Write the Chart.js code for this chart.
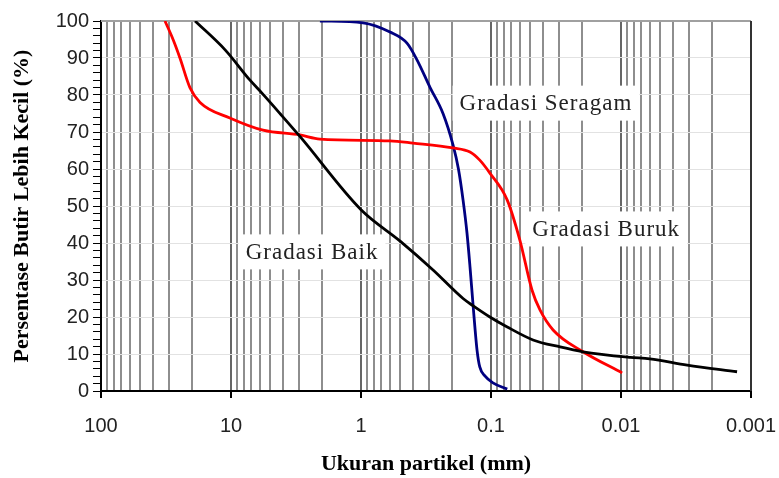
<!DOCTYPE html>
<html>
<head>
<meta charset="utf-8">
<script src="https://cdn.jsdelivr.net/npm/chart.js@4"></script>
<style>
  html, body { margin: 0; padding: 0; background: #fff; }
  #grafik { display: block; }
</style>
</head>
<body>
<canvas id="grafik" width="779" height="478"></canvas>
<script>
// Data (ukuran dalam mm, persen lolos)
const baikSize = [18.9, 11.1, 7.14, 5.78, 4.2, 2.95, 1.0, 0.5, 0.279, 0.164, 0.137, 0.102, 0.075, 0.0475, 0.0294, 0.0196, 0.0085, 0.006, 0.0031, 0.00128];
const baikPct  = [100, 92.2, 84, 80.5, 75, 68.8, 49, 40.5, 32.7, 25, 23, 20, 17.3, 13.8, 11.9, 10.6, 9.1, 8.7, 7, 5.2];

const burukSize = [32.2, 27.9, 24.7, 20.7, 17.3, 10.2, 5.67, 2.94, 2.07, 0.60, 0.398, 0.196, 0.145, 0.122, 0.102, 0.075, 0.060, 0.0484, 0.042, 0.0333, 0.0196, 0.0098];
const burukPct  = [100, 95, 90, 82, 78, 73.8, 70.5, 69.2, 68.1, 67.6, 67, 65.7, 64.6, 62.4, 58.9, 51.6, 40.8, 27.3, 21.9, 16.5, 10.6, 4.9];

const seragamSize = [2.07, 0.966, 0.598, 0.443, 0.371, 0.294, 0.234, 0.196, 0.178, 0.164, 0.153, 0.145, 0.137, 0.128, 0.122, 0.111, 0.0966, 0.075];
const seragamPct  = [100, 99.5, 97, 94, 89.5, 82, 75, 66.5, 60, 51.6, 42.7, 33.5, 22.7, 11, 6.5, 4, 2.2, 0.5];

// Label sumbu x
const xTickValues = [100, 10, 1, 0.1, 0.01, 0.001];
const xTickLabels = ['100', '10', '1', '0.1', '0.01', '0.001'];

// Teks keterangan kurva dan posisinya (dalam satuan data)
const labelText = ['Gradasi Seragam', 'Gradasi Buruk', 'Gradasi Baik'];
const labelSize = [0.0378, 0.013, 2.38];
const labelPct  = [77.8, 43.8, 37.6];

const toPoints = (xs, ys) => xs.map((x, i) => ({ x: x, y: ys[i] }));

// Bingkai atas dan kanan + kotak label
const bingkaiPlugin = {
    id: 'bingkai',
    beforeDatasetsDraw(chart) {
        const { ctx, chartArea: a, scales } = chart;
        ctx.save();
        ctx.lineWidth = 2;
        ctx.strokeStyle = '#a0a0a0';
        ctx.beginPath();
        ctx.moveTo(a.left, a.top);
        ctx.lineTo(a.right, a.top);
        ctx.stroke();
        ctx.strokeStyle = '#333';
        ctx.beginPath();
        ctx.moveTo(a.right, a.top);
        ctx.lineTo(a.right, a.bottom);
        ctx.stroke();

        ctx.font = '23px "Liberation Serif", "Times New Roman", serif';
        ctx.letterSpacing = '1px';
        ctx.textAlign = 'center';
        ctx.textBaseline = 'middle';
        labelText.forEach((t, i) => {
            const px = scales.x.getPixelForValue(labelSize[i]);
            const py = scales.y.getPixelForValue(labelPct[i]);
            const w = ctx.measureText(t).width + 14;
            const h = 35;
            ctx.fillStyle = '#fff';
            ctx.fillRect(px - w / 2, py - h / 2, w, h);
            ctx.fillStyle = '#222';
            ctx.fillText(t, px, py + 1);
        });
        ctx.restore();
    }
};

const garis = (data, warna) => ({
    data: data,
    borderColor: warna,
    borderWidth: 2.8,
    pointRadius: 0,
    fill: false,
    cubicInterpolationMode: 'monotone'
});

const ctx = document.getElementById('grafik').getContext('2d');

const chart = new Chart(ctx, {
    type: 'line',
    data: {
        datasets: [
            garis(toPoints(baikSize, baikPct), '#000000'),
            garis(toPoints(burukSize, burukPct), '#ff0000'),
            garis(toPoints(seragamSize, seragamPct), '#000080')
        ]
    },
    options: {
        responsive: false,
        animation: false,
        layout: { padding: { top: 21, right: 28, left: 0, bottom: 0 } },
        plugins: {
            legend: { display: false },
            tooltip: { enabled: false }
        },
        scales: {
            x: {
                type: 'logarithmic',
                reverse: true,
                min: 0.001,
                max: 100,
                afterBuildTicks(scale) {
                    const ticks = [];
                    for (let e = -3; e <= 1; e++) {
                        for (let m = 1; m <= 9; m++) {
                            ticks.push({ value: parseFloat(m + 'e' + e), major: m === 1 });
                        }
                    }
                    ticks.push({ value: 100, major: true });
                    scale.ticks = ticks;
                },
                afterFit(scale) { scale.height = 87; },
                ticks: {
                    autoSkip: false,
                    maxRotation: 0,
                    padding: 16,
                    color: '#222',
                    font: { family: '"Liberation Sans", Arial, sans-serif', size: 20 },
                    callback(value) {
                        const i = xTickValues.indexOf(value);
                        return i >= 0 ? xTickLabels[i] : '';
                    }
                },
                grid: {
                    color: c => (c.tick && c.tick.major ? '#666' : '#8e8e8e'),
                    lineWidth: 2,
                    tickColor: c => (c.tick && c.tick.major ? '#000' : 'rgba(0,0,0,0)'),
                    tickLength: 7
                },
                border: { color: '#000', width: 2 },
                title: {
                    display: true,
                    text: 'Ukuran partikel (mm)',
                    color: '#000',
                    font: { family: '"Liberation Serif", "Times New Roman", serif', size: 22, weight: 'bold' },
                    padding: { top: 0, bottom: 0 }
                }
            },
            y: {
                min: 0,
                max: 100,
                afterFit(scale) { scale.width = 101; },
                ticks: {
                    stepSize: 2,
                    autoSkip: false,
                    padding: 4,
                    color: '#222',
                    font: { family: '"Liberation Sans", Arial, sans-serif', size: 20 },
                    callback: v => (v % 10 === 0 ? String(v) : '')
                },
                grid: {
                    color: c => (c.tick && c.tick.value % 10 === 0 && c.tick.value > 0 ? '#e2e2e2' : 'rgba(0,0,0,0)'),
                    lineWidth: 1,
                    tickColor: '#000',
                    tickLength: 8
                },
                border: { color: '#000', width: 2 },
                title: {
                    display: true,
                    text: 'Persentase Butir Lebih Kecil (%)',
                    color: '#000',
                    font: { family: '"Liberation Serif", "Times New Roman", serif', size: 22, weight: 'bold' },
                    padding: { top: 9, bottom: 0 }
                }
            }
        }
    },
    plugins: [bingkaiPlugin]
});
</script>
</body>
</html>
